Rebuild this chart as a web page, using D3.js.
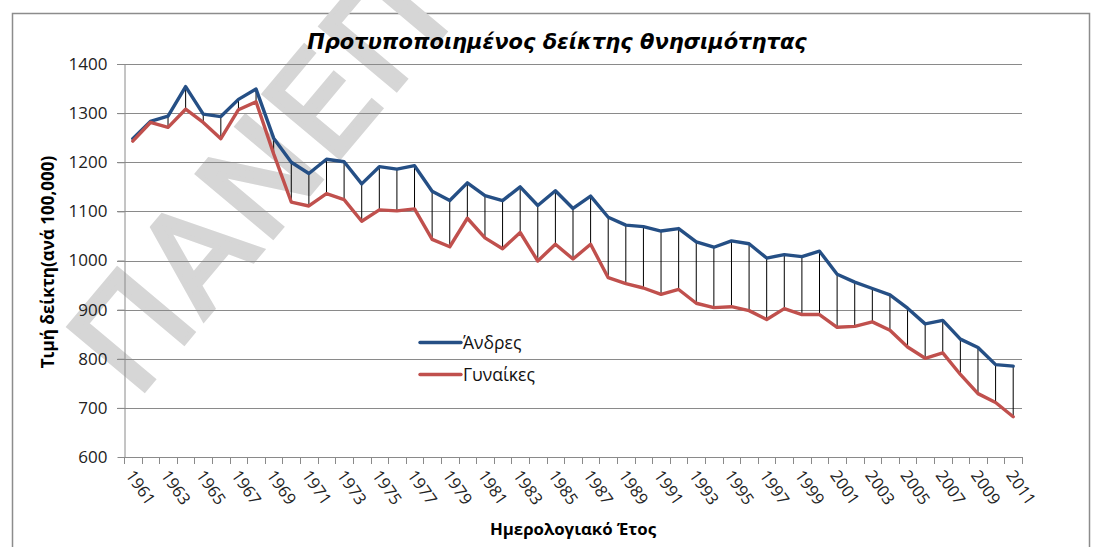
<!DOCTYPE html>
<html>
<head>
<meta charset="utf-8">
<script src="https://cdn.jsdelivr.net/npm/d3@7"></script>
<style>
  html, body { margin: 0; padding: 0; background: #fff; }
  svg { display: block; }
</style>
</head>
<body>
<script>
const years = [1961,1962,1963,1964,1965,1966,1967,1968,1969,1970,
  1971,1972,1973,1974,1975,1976,1977,1978,1979,1980,
  1981,1982,1983,1984,1985,1986,1987,1988,1989,1990,
  1991,1992,1993,1994,1995,1996,1997,1998,1999,2000,
  2001,2002,2003,2004,2005,2006,2007,2008,2009,2010,2011];
const men = [1248,1283,1294,1354,1298,1293,1328,1349,1249,1200,
  1177,1206,1201,1156,1191,1186,1193,1141,1122,1158,
  1132,1122,1150,1112,1142,1106,1131,1088,1072,1069,
  1060,1065,1038,1027,1040,1034,1005,1012,1008,1019,
  972,956,943,930,903,871,878,840,823,788,785];
const women = [1243,1281,1271,1308,1281,1248,1307,1323,1217,1119,
  1111,1136,1124,1080,1103,1101,1105,1043,1028,1086,
  1046,1024,1057,999,1033,1003,1033,965,953,944,
  931,941,913,904,906,898,880,902,890,890,
  864,866,875,858,824,801,812,768,729,711,682];
const yTicks = [600,700,800,900,1000,1100,1200,1300,1400];
const seriesNames = ["Άνδρες", "Γυναίκες"];
const title = "Προτυποποιημένος δείκτης θνησιμότητας";
const yTitle = "Τιμή δείκτη(ανά 100,000)";
const xTitle = "Ημερολογιακό Έτος";
const watermark = "ΠΑΝΕΠ";

const W = 1100, H = 547;
const colors = ["#254f85", "#c0504d"];
const gridColor = "#8a8a8a";
const numFont = "'Open Sans', 'DejaVu Sans', sans-serif";

const svg = d3.select("body").append("svg").attr("width", W).attr("height", H);
svg.append("rect").attr("width", W).attr("height", H).attr("fill", "#fff");

// chart frame
svg.append("rect").attr("x", 12.5).attr("y", 13.5).attr("width", 1077).attr("height", 560)
  .attr("fill", "none").attr("stroke", "#8c8c8c").attr("stroke-width", 1.5);

// watermark
svg.append("text")
  .attr("transform", "translate(136,400) rotate(-50)")
  .attr("font-family", "'DejaVu Sans', sans-serif")
  .attr("font-size", 135)
  .attr("fill", "#d6d6d6")
  .attr("stroke", "#d6d6d6")
  .attr("stroke-width", 5)
  .attr("stroke-linejoin", "miter")
  .attr("letter-spacing", 3)
  .text(watermark);

const x = d3.scaleBand().domain(years).range([124, 1022]).padding(0);
const y = d3.scaleLinear().domain([600, 1400]).range([457, 64]);

// gridlines
svg.append("g").selectAll("line").data(yTicks.filter(d => d > 600)).join("line")
  .attr("x1", 117).attr("x2", 1022)
  .attr("y1", d => Math.round(y(d)) + 0.5).attr("y2", d => Math.round(y(d)) + 0.5)
  .attr("stroke", gridColor).attr("stroke-width", 1);

// y axis
const yAxis = d3.axisLeft(y).tickValues(yTicks).tickSize(7).tickSizeOuter(0).tickPadding(10)
  .tickFormat(d3.format("d"));
const gy = svg.append("g").attr("transform", "translate(124.5,0)").call(yAxis);
gy.select(".domain").attr("stroke", gridColor);
gy.selectAll(".tick line").attr("stroke", gridColor);
gy.selectAll(".tick text").attr("font-family", numFont).attr("font-size", 17).attr("fill", "#222");

// x axis line and ticks at category boundaries
svg.append("line").attr("x1", 124).attr("x2", 1022).attr("y1", 457.5).attr("y2", 457.5)
  .attr("stroke", gridColor);
const bounds = years.map(d => x(d)).concat([x.range()[1]]);
svg.append("g").selectAll("line").data(bounds).join("line")
  .attr("x1", d => Math.round(d) + 0.5).attr("x2", d => Math.round(d) + 0.5)
  .attr("y1", 457).attr("y2", 464).attr("stroke", gridColor);

// x tick labels
svg.append("g").selectAll("text").data(years.filter((d, i) => i % 2 === 0)).join("text")
  .attr("transform", d => `translate(${x(d) + x.bandwidth() / 2 - 3},472) rotate(55)`)
  .attr("dy", "0.35em")
  .attr("text-anchor", "start")
  .attr("font-family", numFont).attr("font-size", 16.5).attr("fill", "#222")
  .text(d => d);

// high-low lines
const cx = d => x(d) + x.bandwidth() / 2;
svg.append("g").selectAll("line").data(years).join("line")
  .attr("x1", d => cx(d)).attr("x2", d => cx(d))
  .attr("y1", (d, i) => y(men[i])).attr("y2", (d, i) => y(women[i]))
  .attr("stroke", "#000").attr("stroke-width", 1);

// series lines
const line = d3.line().x((d, i) => cx(years[i])).y(d => y(d));
[men, women].forEach((s, k) => {
  svg.append("path").datum(s).attr("d", line)
    .attr("fill", "none").attr("stroke", colors[k]).attr("stroke-width", 3.4)
    .attr("stroke-linejoin", "round").attr("stroke-linecap", "round");
});

// legend
const legendY = [342.5, 374.5];
seriesNames.forEach((n, k) => {
  svg.append("line").attr("x1", 420).attr("x2", 461).attr("y1", legendY[k]).attr("y2", legendY[k])
    .attr("stroke", colors[k]).attr("stroke-width", 3.4).attr("stroke-linecap", "round");
  svg.append("text").attr("x", 463).attr("y", legendY[k]).attr("dy", "0.35em")
    .attr("font-family", numFont).attr("font-size", 17.5).attr("fill", "#111").text(n);
});

// title
svg.append("text").attr("x", 557).attr("y", 49).attr("text-anchor", "middle")
  .attr("font-family", "'DejaVu Sans', sans-serif")
  .attr("font-weight", "bold").attr("font-style", "italic")
  .attr("font-size", 21).attr("fill", "#000").text(title);

// axis titles
svg.append("text").attr("transform", "translate(54,262) rotate(-90)").attr("text-anchor", "middle")
  .attr("font-family", numFont).attr("font-weight", "bold").attr("font-size", 17)
  .attr("fill", "#000").text(yTitle);
svg.append("text").attr("x", 573).attr("y", 535).attr("text-anchor", "middle")
  .attr("font-family", numFont).attr("font-weight", "bold").attr("font-size", 16.8)
  .attr("fill", "#000").text(xTitle);
</script>
</body>
</html>
